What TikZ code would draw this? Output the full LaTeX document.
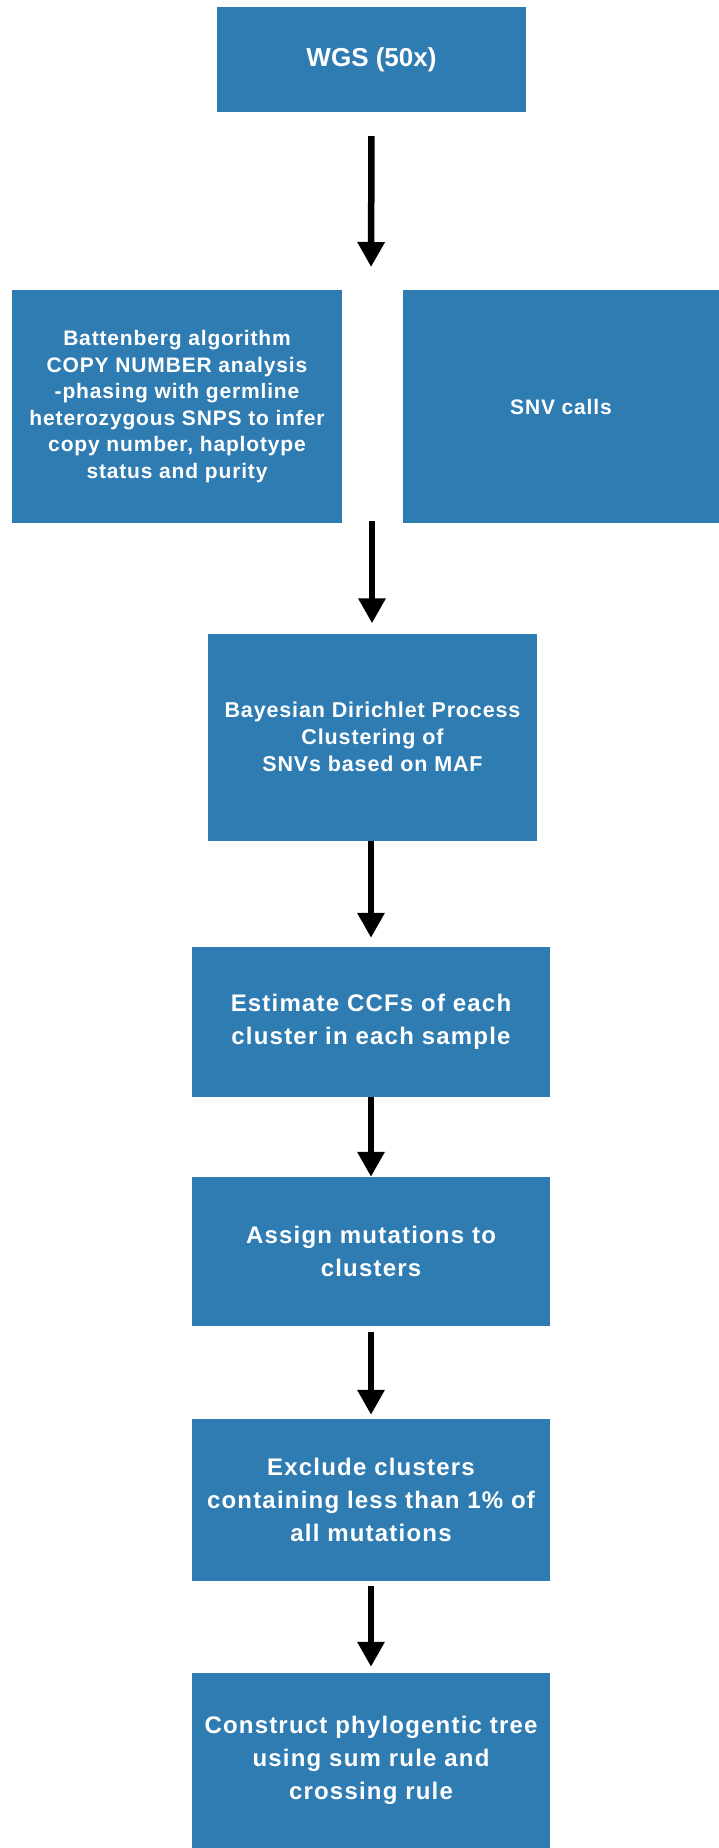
\documentclass[tikz,border=0pt]{standalone}
\usepackage{fontspec}
\setmainfont{Liberation Sans}
\newfontfamily\widefont[LetterSpace=5]{Liberation Sans}
\newfontfamily\narrowfont[LetterSpace=4]{Liberation Sans}
\usetikzlibrary{arrows.meta,positioning}
\usepackage{xcolor}
\definecolor{boxblue}{RGB}{47,124,178}

\begin{document}
\begin{tikzpicture}[x=1pt,y=-1pt,
        stepbox/.style={fill=boxblue, text=white, inner sep=0pt, align=center,
            font=\widefont\bfseries\fontsize{24}{33.3}\selectfont},
        flow/.style={line width=6.5pt, -{Triangle[width=26pt,length=25pt]}}]
            \useasboundingbox (0,0) rectangle (719,1848);

            \node[stepbox, minimum width=309pt, minimum height=105pt,
                font=\bfseries\fontsize{26}{30}\selectfont] (wgs) at (371.5,59.5) {WGS (50x)};
            \node[stepbox, minimum width=330pt, minimum height=233pt,
                font=\narrowfont\bfseries\fontsize{21}{26.6}\selectfont] (batt) at (177,406.5)
                {Battenberg algorithm\\COPY NUMBER analysis\\-phasing with germline\\heterozygous SNPS to infer\\copy number, haplotype\\status and purity};
            \node[stepbox, minimum width=316pt, minimum height=233pt,
                font=\narrowfont\bfseries\fontsize{21}{26.6}\selectfont] (snv) at (561,406.5) {SNV calls};
            \node[stepbox, minimum width=329pt, minimum height=207pt,
                font=\narrowfont\bfseries\fontsize{21.5}{26.7}\selectfont] (bdp) at (372.5,737)
                {Bayesian Dirichlet Process\\Clustering of\\SNVs based on MAF};
            \node[stepbox, minimum width=358pt, minimum height=150pt] (ccf) at (371,1022)
                {Estimate CCFs of each\\cluster in each sample};
            \node[stepbox, minimum width=358pt, minimum height=149pt] (assign) at (371,1251.5)
                {Assign mutations to\\clusters};
            \node[stepbox, minimum width=358pt, minimum height=162pt] (excl) at (371,1500)
                {Exclude clusters\\containing less than 1\% of\\all mutations};
            \node[stepbox, minimum width=358pt, minimum height=175pt] (tree) at (371,1760.5)
                {Construct phylogentic tree\\using sum rule and\\crossing rule};

            % gap between the two copy number / SNV boxes
            \coordinate (split) at (371,290);
            \coordinate (join) at (372,521);

            \draw[flow, shorten <=24pt, shorten >=23pt] (wgs.south) -- (split);
            \draw[flow, shorten >=10pt] (join) -- (bdp.north -| join);
            \draw[flow, shorten >=9pt] (bdp.south -| ccf) -- (ccf.north);
            \draw[flow] (ccf.south) -- (assign.north);
            \draw[flow, shorten <=6pt, shorten >=4pt] (assign.south) -- (excl.north);
            \draw[flow, shorten <=5pt, shorten >=6pt] (excl.south) -- (tree.north);
        \end{tikzpicture}
\end{document}
